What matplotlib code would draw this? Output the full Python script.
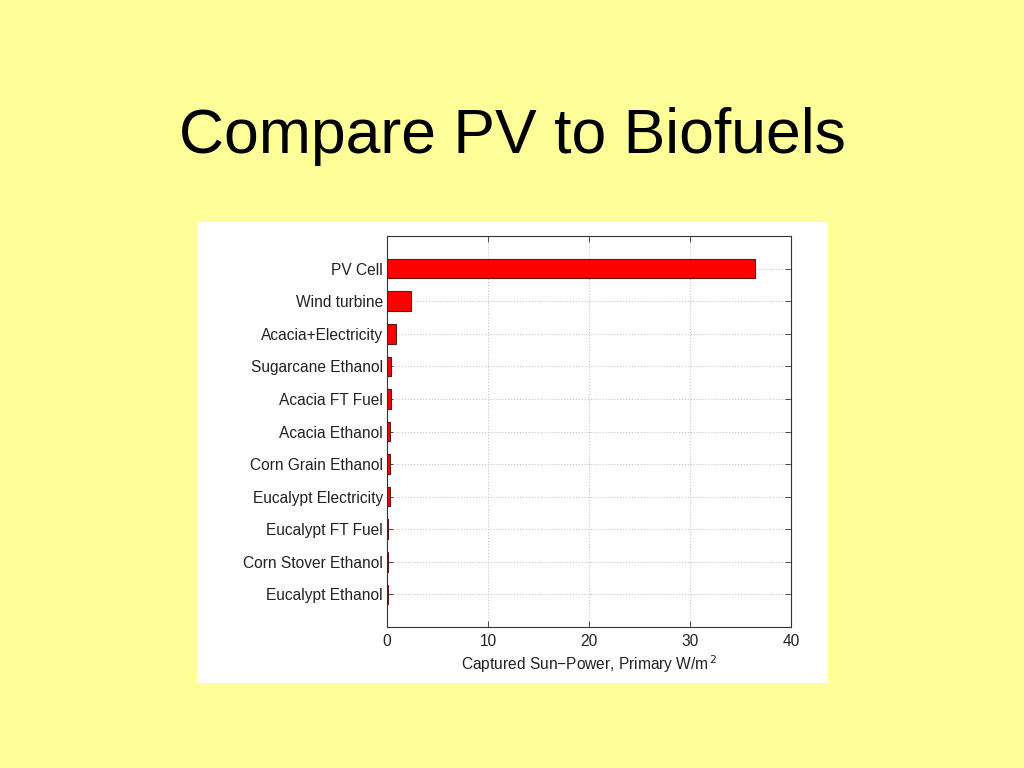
import matplotlib
matplotlib.use("Agg")
import matplotlib.pyplot as plt
from matplotlib.patches import Rectangle
import numpy as np

# data
categories = [
    "PV Cell",
    "Wind turbine",
    "Acacia+Electricity",
    "Sugarcane Ethanol",
    "Acacia FT Fuel",
    "Acacia Ethanol",
    "Corn Grain Ethanol",
    "Eucalypt Electricity",
    "Eucalypt FT Fuel",
    "Corn Stover Ethanol",
    "Eucalypt Ethanol",
]
values = [36.4, 2.4, 0.9, 0.4, 0.35, 0.3, 0.25, 0.25, 0.05, 0.05, 0.05]
x_ticks = [0, 10, 20, 30, 40]

plt.rcParams["font.family"] = ["Liberation Sans", "DejaVu Sans"]

fig = plt.figure(figsize=(10.24, 7.68), dpi=100)
fig.patch.set_facecolor("#FFFF99")

# white panel behind the chart
fig.patches.append(Rectangle((197 / 1024, 1 - 683 / 768), 631 / 1024, 461 / 768,
                             transform=fig.transFigure, facecolor="white",
                             edgecolor="none", zorder=-1))

fig.text(0.5, 1 - 137 / 768, "Compare PV to Biofuels", ha="center", va="center",
         fontsize=45, color="black")

ax = fig.add_axes([387 / 1024, 1 - 627 / 768, 404 / 1024, 391 / 768])
ax.set_zorder(1)
ax.set_facecolor("white")

y = np.arange(1, len(categories) + 1)
ax.barh(y, values, height=0.6, color="#FF0000", edgecolor="#5a1a1a", linewidth=0.8, zorder=3)

ax.set_xlim(0, 40)
ax.set_ylim(len(categories) + 1, 0)
ax.set_xticks(x_ticks)
ax.set_xticklabels([str(t) for t in x_ticks], fontsize=11.2, color="#222222")
ax.set_yticks(y)
ax.set_yticklabels(categories, fontsize=11.2, color="#222222")
ax.tick_params(direction="in", top=True, right=True, length=4, width=0.6, color="#333333")
ax.tick_params(axis="x", pad=5)
ax.tick_params(axis="y", pad=3)
ax.grid(True, linestyle=":", color="#c4c4c4", linewidth=0.8, zorder=0)
ax.set_axisbelow(True)
for s in ax.spines.values():
    s.set_linewidth(0.8)
    s.set_color("#333333")

ax.set_xlabel("Captured Sun\u2212Power, Primary W/m$^{\\,2}$", fontsize=11.2,
              color="#222222", labelpad=3)

fig.savefig("out.png", dpi=100, facecolor=fig.get_facecolor())
